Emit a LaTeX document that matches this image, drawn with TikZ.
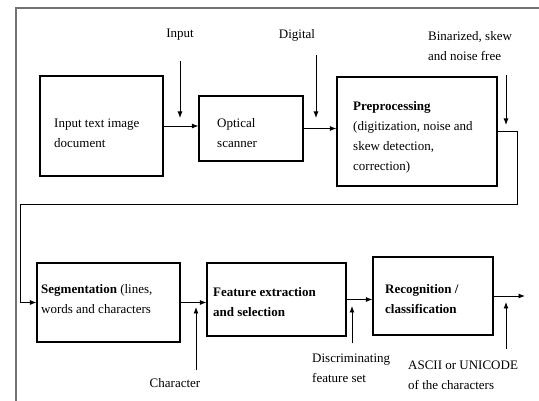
\documentclass[tikz,border=0pt]{standalone}
\usepackage{fontspec}
\setmainfont{Liberation Serif}
\usetikzlibrary{fit,arrows.meta}

\begin{document}
\begin{tikzpicture}[x=1pt,y=-1pt,
  txt/.style={inner sep=0mm,align=left,font=\fontsize{13}{20}\selectfont},
  stage/.style={inner sep=0mm,draw,line width=1.2pt},
  flow/.style={draw,line width=0.9pt,-{Latex[length=6.5pt,width=5pt]}}]
  \useasboundingbox (0,0) rectangle (539,401);
  \draw[gray!90!black,line width=1.5pt] (16,401) |- (539,8);
  % top row
  \node[txt,anchor=west] at (54,133) (docTxt) {Input text image\\document};
  \node[stage,fit={(40,76) (163,176)}] (doc) {};
  \node[txt,anchor=west] at (217,133) (scanTxt) {Optical\\scanner};
  \node[stage,fit={(199,96) (303,161)}] (scan) {};
  \node[txt,anchor=west] at (353,137) (preTxt) {\textbf{Preprocessing}\\(digitization, noise and\\skew detection,\\correction)};
  \node[stage,fit={(337,77) (497,186)}] (pre) {};
  \node[txt] at (180,35) (inLbl) {Input};
  \node[txt] at (297,35) (digLbl) {Digital};
  \node[txt,anchor=west] at (428,46) (binLbl) {Binarized, skew\\and noise free};
  % bottom row
  \node[txt,anchor=west] at (41,299) (segTxt) {\textbf{Segmentation} (lines,\\words and characters};
  \node[stage,fit={(37,263) (180,342)}] (seg) {};
  \node[txt,anchor=west] at (213,302) (featTxt) {\textbf{Feature extraction}\\\textbf{and selection}};
  \node[stage,fit={(207,263) (346,336)}] (feat) {};
  \node[txt,anchor=west] at (385,299) (recTxt) {\textbf{Recognition /}\\\textbf{classification}};
  \node[stage,fit={(373,257) (493,335)}] (rec) {};
  \node[txt] at (175,383) (chLbl) {Character};
  \node[txt,anchor=west] at (312,368) (discLbl) {Discriminating\\feature set};
  \node[txt,anchor=west] at (408,375) (asciiLbl) {ASCII or UNICODE\\of the characters};
  % connectors
  \coordinate (inTop) at (180,61);   \coordinate (inTip) at (180,118);
  \coordinate (digTop) at (316,55);  \coordinate (digTip) at (316,118);
  \coordinate (binTop) at (506,75);  \coordinate (binTip) at (506,125);
  \coordinate (chBot) at (196,370);  \coordinate (chTip) at (196,307);
  \coordinate (discBot) at (352,343); \coordinate (discTip) at (352,306);
  \coordinate (asciiBot) at (506,349); \coordinate (asciiTip) at (506,302);
  \coordinate (wrapR) at (517,204);  \coordinate (wrapL) at (20,204);
  \coordinate (out) at (525,296);
  \draw[flow] (doc.east) -- (doc.east -| scan.west);
  \draw[flow] (scan.east) -- (scan.east -| pre.west);
  \draw[flow] (pre.east) -| (wrapR) -- (wrapL) |- (seg.west);
  \draw[flow] (seg.east) -- (seg.east -| feat.west);
  \draw[flow] (feat.east) -- (feat.east -| rec.west);
  \draw[flow] (rec.east) -- (out);
  \draw[flow] (inTop) -- (inTip);
  \draw[flow] (digTop) -- (digTip);
  \draw[flow] (binTop) -- (binTip);
  \draw[flow] (chBot) -- (chTip);
  \draw[flow] (discBot) -- (discTip);
  \draw[flow] (asciiBot) -- (asciiTip);
\end{tikzpicture}
\end{document}
